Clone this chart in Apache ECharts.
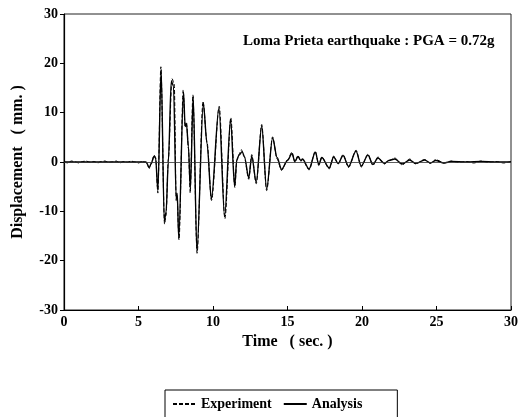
<!DOCTYPE html>
<html>
<head>
<meta charset="utf-8">
<script src="https://cdn.jsdelivr.net/npm/echarts@6/dist/echarts.min.js"></script>
<style>
  html, body { margin: 0; padding: 0; background: #fff; }
  #chart { width: 521px; height: 417px; }
</style>
</head>
<body>
<div id="chart"></div>
<script>
// time (sec.) and displacement (mm.)
var expTime = [0, 0.25, 0.5, 0.75, 1, 1.25, 1.5, 1.75, 2, 2.25, 2.5, 2.75, 3, 3.25, 3.5, 3.75, 4, 4.25, 4.5, 4.75, 5, 5.25, 5.5,
  5.73, 5.85, 6.05, 6.15, 6.3, 6.5, 6.75, 6.85, 7.0, 7.25, 7.4, 7.53, 7.58, 7.72, 8.0, 8.13, 8.22, 8.35, 8.47, 8.65, 8.93,
  9.33, 9.6, 9.9, 10.42, 10.8, 11.2, 11.47, 11.6, 11.75, 11.9, 12.1, 12.4, 12.6, 12.9, 13.27, 13.6, 14.0, 14.3, 14.6, 15.0,
  15.3, 15.5, 15.7, 15.9, 16.0, 16.45, 16.87, 17.1, 17.3, 17.8, 18.1, 18.4, 18.73, 19.1, 19.6, 19.95, 20.4, 20.73, 21.07,
  21.5, 21.8, 22.2, 22.7, 23.2, 23.6, 24.2, 24.6, 24.95, 25.5, 26, 26.5, 27, 27.5, 28, 28.5, 29, 29.5, 30];
var expDisp = [0.1, -0.2, 0.2, 0, -0.2, 0.1, 0.2, -0.1, 0.1, -0.2, 0.1, 0.2, -0.1, 0, 0.2, -0.2, 0.1, -0.1, 0.2, 0, -0.2, 0.1, -0.1,
  -1.3, -0.4, 1.4, 0.9, -6.3, 19.3, -12.6, -10.8, 0.5, 16.9, 15.8, -7.8, -6.8, -15.8, 14.6, 7.0, 8.1, 2.8, -6.3, 13.6, -18.5,
  12.3, 4.0, -7.8, 11.3, -11.5, 9.0, -5.2, 0.3, 1.6, 2.5, 1.0, -3.5, 1.5, -4.4, 7.6, -5.8, 5.1, 0.6, -1.7, 0.4,
  2.0, -0.1, 1.3, 0.1, 0.5, -1.6, 2.2, -0.7, 1.0, -1.4, 1.2, -0.4, 1.5, -1.1, 2.4, -1.0, 1.6, -0.7, 1.0,
  -0.4, 0.3, 0.8, -0.6, 0.6, -0.4, 0.5, -0.3, 0.5, -0.2, 0.2, -0.1, 0.1, -0.2, 0.2, -0.1, 0.1, -0.2, 0.1];

var anaTime = [0, 5.5, 5.73, 5.85, 6.05, 6.15, 6.3, 6.52, 6.73, 6.85, 7.0, 7.2, 7.35, 7.53, 7.6, 7.7, 8.02, 8.13, 8.22, 8.35,
  8.48, 8.67, 8.92, 9.35, 9.6, 9.89, 10.4, 10.78, 11.18, 11.45, 11.6, 11.75, 11.96, 12.1, 12.4, 12.6, 12.9, 13.27, 13.6,
  14.0, 14.3, 14.6, 15.0, 15.3, 15.5, 15.7, 15.9, 16.0, 16.45, 16.87, 17.1, 17.3, 17.8, 18.1, 18.4, 18.73, 19.1, 19.6,
  19.95, 20.4, 20.73, 21.07, 21.5, 21.8, 22.2, 22.7, 23.2, 23.6, 24.2, 24.6, 24.95, 25.5, 26, 27, 28, 29, 30];
var anaDisp = [0, 0, -1.1, -0.3, 1.2, 0.8, -5.8, 18.8, -12.0, -10.2, 0, 16.4, 15.4, -7.4, -6.4, -15.4, 14.2, 7.3, 7.7, 3.1,
  -5.5, 13.3, -18.1, 11.9, 3.7, -7.5, 11.0, -11.1, 8.7, -4.9, 0.5, 1.4, 2.1, 1.2, -3.2, 1.2, -4.1, 7.3, -5.5,
  4.9, 0.9, -1.5, 0.3, 1.7, 0.1, 1.1, 0.3, 0.6, -1.4, 2.0, -0.5, 0.9, -1.2, 1.0, -0.3, 1.3, -0.9, 2.2,
  -0.8, 1.4, -0.5, 0.8, -0.3, 0.3, 0.6, -0.4, 0.4, -0.3, 0.4, -0.2, 0.3, -0.2, 0.1, 0, 0.1, 0, 0];

var xTicks = [0, 5, 10, 15, 20, 25, 30];
var yTicks = [-30, -20, -10, 0, 10, 20, 30];

function pairs(t, v) {
  var out = [];
  for (var i = 0; i < t.length; i++) {
    out.push([t[i], v[i]]);
  }
  return out;
}

var chart = echarts.init(document.getElementById('chart'));
var serif = '"Liberation Serif", "DejaVu Serif", serif';

var option = {
  animation: false,
  backgroundColor: '#fff',
  textStyle: { fontFamily: serif },
  grid: {
    left: 64, right: 7, top: 14, bottom: 107,
    show: true, borderColor: '#222', borderWidth: 1
  },
  graphic: [{
    type: 'text',
    left: 243, top: 34,
    style: {
      text: 'Loma Prieta earthquake : PGA = 0.72g',
      font: 'bold 15px ' + serif,
      fill: '#000'
    }
  }],
  legend: {
    left: 165, top: 390,
    padding: [7, 35, 16, 7],
    itemGap: 11,
    itemWidth: 23, itemHeight: 10,
    borderColor: '#000', borderWidth: 1,
    itemStyle: { opacity: 0 },
    textStyle: { fontFamily: serif, fontWeight: 'bold', fontSize: 14, color: '#000' },
    data: ['Experiment', 'Analysis']
  },
  xAxis: {
    type: 'value',
    min: xTicks[0], max: xTicks[xTicks.length - 1], interval: 5,
    name: 'Time   ( sec. )',
    nameLocation: 'middle', nameGap: 22,
    nameTextStyle: { fontFamily: serif, fontWeight: 'bold', fontSize: 16, color: '#000' },
    axisLine: { onZero: false, lineStyle: { color: '#000', width: 1.2 } },
    axisTick: { inside: true, length: 4, lineStyle: { color: '#000' } },
    axisLabel: { margin: 5, fontFamily: serif, fontWeight: 'bold', fontSize: 14, color: '#000' },
    splitLine: { show: false }
  },
  yAxis: {
    type: 'value',
    min: yTicks[0], max: yTicks[yTicks.length - 1], interval: 10,
    name: 'Displacement   ( mm. )',
    nameLocation: 'middle', nameGap: 38, nameRotate: 90,
    nameTextStyle: { fontFamily: serif, fontWeight: 'bold', fontSize: 16, color: '#000' },
    axisLine: { onZero: false, lineStyle: { color: '#000', width: 1.2 } },
    axisTick: { inside: false, length: 4, lineStyle: { color: '#000' } },
    axisLabel: { margin: 6, fontFamily: serif, fontWeight: 'bold', fontSize: 14, color: '#000' },
    splitLine: { show: false }
  },
  series: [
    {
      name: 'Experiment',
      type: 'line',
      data: pairs(expTime, expDisp),
      symbol: 'none',
      smooth: 0.3,
      smoothMonotone: 'x',
      lineStyle: { color: '#000', width: 1, type: [4, 2] },
      itemStyle: { color: '#000' }
    },
    {
      name: 'Analysis',
      type: 'line',
      data: pairs(anaTime, anaDisp),
      symbol: 'none',
      smooth: 0.3,
      smoothMonotone: 'x',
      lineStyle: { color: '#000', width: 1.4 },
      itemStyle: { color: '#000' },
      markLine: {
        silent: true, symbol: 'none', label: { show: false },
        lineStyle: { color: '#333', width: 0.8, type: 'solid' },
        data: [{ yAxis: 0 }]
      }
    }
  ]
};

chart.setOption(option);
</script>
</body>
</html>
